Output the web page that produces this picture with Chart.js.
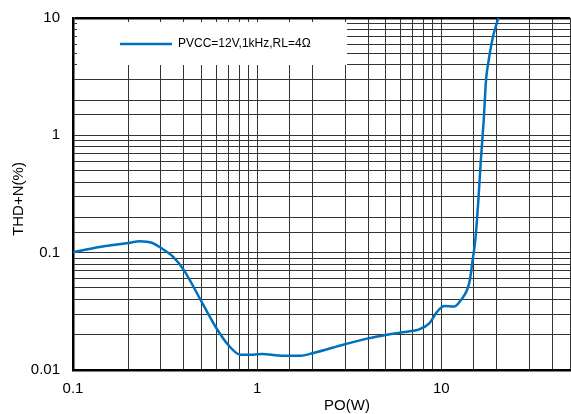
<!DOCTYPE html>
<html>
<head>
<meta charset="utf-8">
<script src="https://cdn.jsdelivr.net/npm/chart.js@4"></script>
<style>
  body { margin: 0; background: #fff; }
</style>
</head>
<body>
<canvas id="myChart" width="571" height="414"></canvas>
<script>
// output power (W) and THD+N (%)
const power = [0.1, 0.15, 0.2, 0.23, 0.27, 0.3, 0.35, 0.4, 0.5, 0.6, 0.7, 0.81, 0.95, 1.07, 1.3, 1.7, 2.0, 3.0, 4.0, 5.0, 7.0, 7.6, 8.6, 9.5, 10.4, 11.7, 12.8, 13.8, 14.3, 14.8, 15.3, 15.9, 16.4, 17.0, 17.5, 18.1, 19.1, 20.4];
const thdn = [0.101, 0.114, 0.121, 0.125, 0.121, 0.11, 0.092, 0.071, 0.038, 0.0228, 0.0162, 0.0135, 0.0135, 0.0137, 0.0133, 0.0132, 0.0139, 0.0166, 0.0186, 0.0199, 0.0216, 0.0222, 0.025, 0.0314, 0.0351, 0.0347, 0.0396, 0.048, 0.0585, 0.0867, 0.128, 0.281, 0.616, 1.35, 2.97, 4.39, 6.95, 10];

const xTickLabels = ["0.1", "1", "10"];
const yTickLabels = ["0.01", "0.1", "1", "10"];
const seriesName = "PVCC=12V,1kHz,RL=4Ω";
const xTitle = "PO(W)";
const yTitle = "THD+N(%)";

const blue = "#0070c0";
const font = "'Liberation Sans', Arial, sans-serif";

function labelFor(list, v) {
  const hit = list.find((s) => Math.abs(Number(s) - v) < v * 1e-6);
  return hit === undefined ? "" : hit;
}

// white legend box over the grid, plus axis titles
const extras = {
  id: "extras",
  beforeDatasetsDraw(chart) {
    const c = chart.ctx;
    c.save();
    c.fillStyle = "#fff";
    c.fillRect(77, 22, 270, 43);
    c.strokeStyle = blue;
    c.lineWidth = 2.5;
    c.beginPath();
    c.moveTo(120, 44);
    c.lineTo(172, 44);
    c.stroke();
    c.fillStyle = "#000";
    c.font = "12px " + font;
    c.textBaseline = "middle";
    c.fillText(seriesName, 178, 44);
    c.restore();
  },
  afterDraw(chart) {
    const c = chart.ctx;
    c.save();
    c.fillStyle = "#000";
    c.font = "15px " + font;
    c.textAlign = "center";
    c.textBaseline = "middle";
    c.fillText(xTitle, 347, 406);
    c.translate(19, 199);
    c.rotate(-Math.PI / 2);
    c.fillText(yTitle, 0, 0);
    c.restore();
  },
};

const ctx = document.getElementById("myChart");

new Chart(ctx, {
  type: "line",
  data: {
    datasets: [
      {
        label: seriesName,
        data: power.map((p, i) => ({ x: p, y: thdn[i] })),
        borderColor: blue,
        borderWidth: 2.5,
        pointRadius: 0,
        cubicInterpolationMode: "monotone",
        fill: false,
      },
    ],
  },
  options: {
    responsive: false,
    animation: false,
    devicePixelRatio: 1,
    layout: { padding: { left: 0, top: 18, right: 1, bottom: 0 } },
    plugins: { legend: { display: false }, tooltip: { enabled: false } },
    scales: {
      x: {
        type: "logarithmic",
        min: 0.1,
        max: 50,
        afterFit: (s) => {
          s.height = 44;
          s.paddingLeft = 0;
          s.paddingRight = 0;
        },
        border: { color: "#000", width: 2.5 },
        grid: { color: "#333", lineWidth: 1, drawTicks: false },
        ticks: {
          autoSkip: false,
          maxRotation: 0,
          padding: 10,
          color: "#000",
          font: { family: font, size: 15 },
          callback: (v) => labelFor(xTickLabels, v),
        },
      },
      y: {
        type: "logarithmic",
        min: 0.01,
        max: 10,
        afterFit: (s) => {
          s.width = 73;
          s.paddingTop = 0;
          s.paddingBottom = 0;
        },
        border: { color: "#000", width: 2.5 },
        grid: {
          color: (c) => (c.tick && c.tick.value === 10 ? "#000" : "#333"),
          lineWidth: (c) => (c.tick && c.tick.value === 10 ? 2.5 : 1),
          drawTicks: false,
        },
        ticks: {
          autoSkip: false,
          padding: 13,
          color: "#000",
          font: { family: font, size: 15 },
          callback: (v) => labelFor(yTickLabels, v),
        },
      },
    },
  },
  plugins: [extras],
});
</script>
</body>
</html>
